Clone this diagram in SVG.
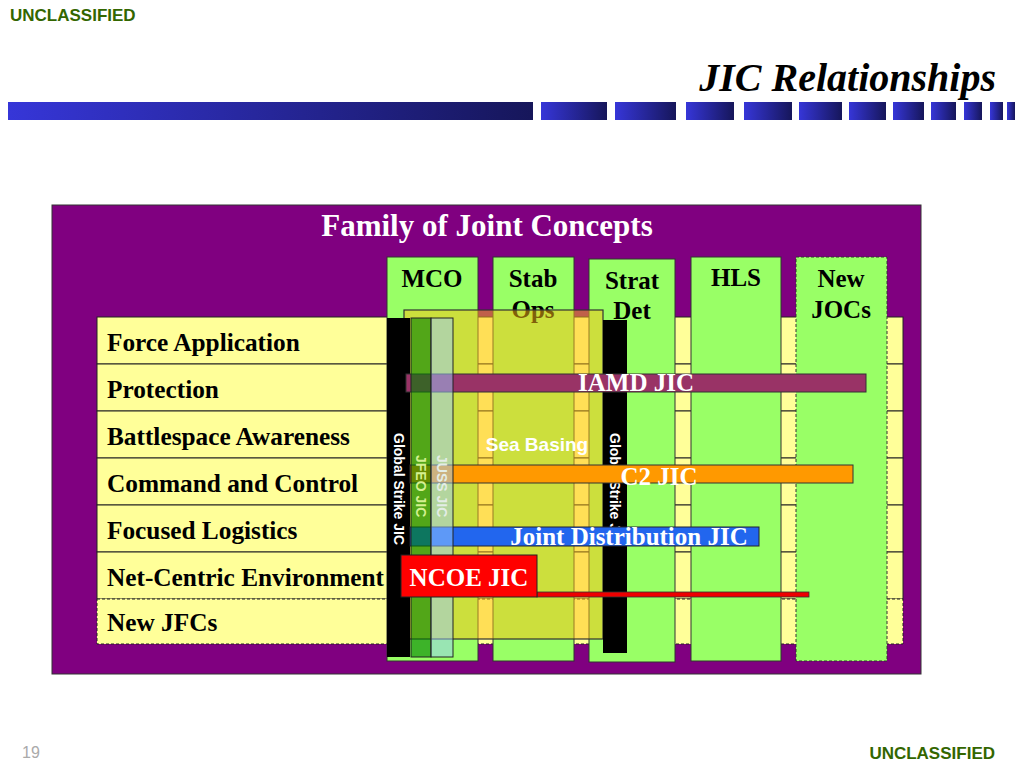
<svg xmlns="http://www.w3.org/2000/svg" width="1024" height="768" viewBox="0 0 1024 768">
<defs>
<linearGradient id="bar" x1="0" y1="0" x2="1" y2="0">
<stop offset="0" stop-color="#3636d8"/>
<stop offset="1" stop-color="#16165a"/>
</linearGradient>
</defs>
<style>
.cls{font-family:"Liberation Sans",Arial,sans-serif;font-weight:bold;font-size:17px;fill:#336600}
.row{fill:#ffff99;stroke:#222;stroke-width:1}
.rowt{font-family:"Liberation Serif","Times New Roman",serif;font-weight:bold;font-size:25.3px;fill:#000}
.col{fill:#99ff66;stroke:#333;stroke-width:1}
.colt{font-family:"Liberation Serif","Times New Roman",serif;font-weight:bold;font-size:25px;fill:#000;text-anchor:middle}
.jic{font-family:"Liberation Serif","Times New Roman",serif;font-weight:bold;font-size:25px;fill:#fff}
.vt{font-family:"Liberation Sans",Arial,sans-serif;font-weight:bold;font-size:14px}
.bord{stroke:#333;stroke-width:1}
</style>
<rect width="1024" height="768" fill="#fff"/>
<g id="header">
<text class="cls" x="10" y="21">UNCLASSIFIED</text>
<text x="996" y="91" text-anchor="end" font-family="Liberation Serif,'Times New Roman',serif" font-style="italic" font-weight="bold" font-size="40" fill="#000">JIC Relationships</text>
<g fill="url(#bar)">
<rect x="8" y="102" width="525" height="18"/>
<rect x="541" y="102" width="66" height="18"/>
<rect x="615" y="102" width="61" height="18"/>
<rect x="686" y="102" width="48" height="18"/>
<rect x="744" y="102" width="48" height="18"/>
<rect x="799" y="102" width="43" height="18"/>
<rect x="849" y="102" width="37" height="18"/>
<rect x="893" y="102" width="31" height="18"/>
<rect x="931" y="102" width="25" height="18"/>
<rect x="964" y="102" width="18" height="18"/>
<rect x="990" y="102" width="13" height="18"/>
<rect x="1007" y="102" width="8" height="18"/>
</g>
</g>
<g id="family">
<rect x="52" y="205" width="869" height="469" fill="#800080" stroke="#333" stroke-width="1"/>
<text x="487" y="236" text-anchor="middle" font-family="Liberation Serif,'Times New Roman',serif" font-weight="bold" font-size="31" fill="#fff">Family of Joint Concepts</text>
</g>
<g id="rows">
<g id="row-fa"><rect class="row" x="97" y="317" width="806" height="47"/><text class="rowt" x="107" y="351">Force Application</text></g>
<g id="row-pr"><rect class="row" x="97" y="364" width="806" height="47"/><text class="rowt" x="107" y="398">Protection</text></g>
<g id="row-ba"><rect class="row" x="97" y="411" width="806" height="47"/><text class="rowt" x="107" y="445">Battlespace Awareness</text></g>
<g id="row-cc"><rect class="row" x="97" y="458" width="806" height="47"/><text class="rowt" x="107" y="492">Command and Control</text></g>
<g id="row-fl"><rect class="row" x="97" y="505" width="806" height="47"/><text class="rowt" x="107" y="539">Focused Logistics</text></g>
<g id="row-nc"><rect class="row" x="97" y="552" width="806" height="47"/><text class="rowt" x="107" y="586">Net-Centric Environment</text></g>
<g id="row-nj"><rect class="row" x="97" y="599" width="806" height="45" stroke-dasharray="3,2"/><text class="rowt" x="107" y="631">New JFCs</text></g>
</g>
<g id="columns">
<g id="col-mco"><rect class="col" x="387" y="257" width="91" height="404"/><text class="colt" x="432" y="287">MCO</text></g>
<g id="col-stab"><rect class="col" x="493" y="257" width="81" height="404"/><text class="colt" x="533" y="287">Stab</text><text class="colt" x="533" y="318">Ops</text></g>
<g id="col-strat"><rect class="col" x="589" y="259" width="86" height="403"/><text class="colt" x="632" y="289">Strat</text><text class="colt" x="632" y="319">Det</text></g>
<g id="col-hls"><rect class="col" x="691" y="257" width="90" height="404"/><text class="colt" x="736" y="286">HLS</text></g>
<g id="col-new"><rect class="col" x="796" y="257" width="91" height="404" stroke-dasharray="3,2"/><text class="colt" x="841" y="287">New</text><text class="colt" x="841" y="318">JOCs</text></g>
</g>
<g id="sea-basing">
<rect x="404" y="310" width="199" height="329" fill="#ffc014" fill-opacity="0.5" stroke="#333" stroke-width="1.2"/>
<text x="537" y="451" text-anchor="middle" font-family="Liberation Sans,Arial,sans-serif" font-weight="bold" font-size="19" fill="#fff">Sea Basing</text>
</g>
<g id="global-strike-1">
<rect x="387" y="318" width="23" height="339" fill="#000"/>
<text class="vt" fill="#fff" transform="translate(393.5,433) rotate(90)">Global Strike JIC</text>
</g>
<g id="global-strike-2">
<rect x="603" y="320" width="24" height="333" fill="#000"/>
<text class="vt" fill="#fff" transform="translate(610,433) rotate(90)">Global Strike JIC</text>
</g>
<g id="iamd">
<rect class="bord" x="406" y="374" width="460" height="18" fill="#993366"/>
</g>
<g id="c2">
<rect class="bord" x="410" y="465" width="443" height="18" fill="#ff9900"/>
</g>
<g id="jd">
<rect x="410" y="527" width="349" height="19" fill="#2266ee" stroke="#223" stroke-width="1"/>
</g>
<g id="jfeo">
<rect x="411" y="318" width="20" height="339" fill="#008000" fill-opacity="0.6" stroke="#222" stroke-width="1"/>
<text class="vt" fill="#d4f090" transform="translate(416,455) rotate(90)">JFEO JIC</text>
</g>
<g id="juss">
<rect x="431" y="318" width="22" height="339" fill="#99ccff" fill-opacity="0.5" stroke="#222" stroke-width="1"/>
<text class="vt" fill="#e4ede6" transform="translate(437,455) rotate(90)">JUSS JIC</text>
</g>
<g id="labels">
<text class="jic" x="636" y="391" text-anchor="middle">IAMD JIC</text>
<text class="jic" x="659" y="485" text-anchor="middle">C2 JIC</text>
<text class="jic" x="629" y="545" text-anchor="middle">Joint Distribution JIC</text>
</g>
<g id="ncoe">
<rect x="537" y="592" width="272" height="5" fill="#ee0000" stroke="#333" stroke-width="0.8"/>
<rect x="401" y="555" width="136" height="42" fill="#ff0000" stroke="#222" stroke-width="1"/>
<text class="jic" x="469" y="586" text-anchor="middle">NCOE JIC</text>
</g>
<g id="footer">
<text x="22" y="758" font-family="Liberation Sans,Arial,sans-serif" font-size="16" fill="#aaa">19</text>
<text class="cls" x="995" y="759" text-anchor="end">UNCLASSIFIED</text>
</g>
</svg>
